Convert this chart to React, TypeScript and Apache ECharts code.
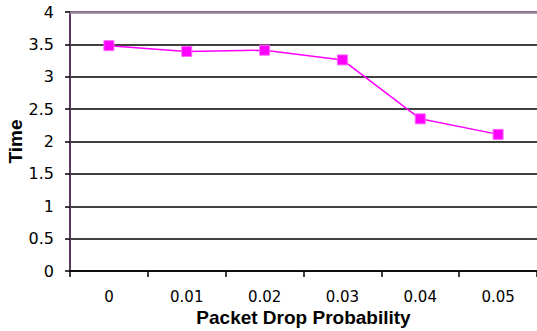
import React, { useEffect, useRef } from "react";
import * as echarts from "echarts";

const categories = ["0", "0.01", "0.02", "0.03", "0.04", "0.05"];
const timeValues = [3.48, 3.39, 3.41, 3.26, 2.35, 2.11];
const yTicks = [0, 0.5, 1, 1.5, 2, 2.5, 3, 3.5, 4];

export default function App() {
  const ref = useRef<HTMLDivElement>(null);
  useEffect(() => {
    document.body.style.margin = "0";
    const chart = echarts.init(ref.current!, null, { renderer: "svg" });
    const font = "'Liberation Sans', Arial, sans-serif";
    const tickFont = "'DejaVu Sans', sans-serif";
    chart.setOption({
      animation: false,
      backgroundColor: "#ffffff",
      grid: { left: 70, right: 0, top: 12, bottom: 60, containLabel: false, outerBoundsMode: "none" },
      xAxis: [
        {
          type: "category",
          data: categories,
          boundaryGap: true,
          name: "Packet Drop Probability",
          nameLocation: "middle",
          nameGap: 37,
          nameMoveOverlap: false,
          nameTextStyle: { fontFamily: font, fontSize: 19, fontWeight: "bold", color: "#000" },
          axisLine: { lineStyle: { color: "#000", width: 1.5 } },
          axisTick: { show: true, length: 6, lineStyle: { color: "#000", width: 1.5 } },
          axisLabel: { fontFamily: tickFont, fontSize: 15, color: "#000", margin: 18 },
          splitLine: { show: false },
        },
        {
          type: "category",
          position: "top",
          data: categories,
          axisLine: { lineStyle: { color: "#9a7f9c", width: 2.5 } },
          axisTick: { show: false },
          axisLabel: { show: false },
        },
      ],
      yAxis: {
        type: "value",
        min: 0,
        max: 4,
        interval: 0.5,
        name: "Time",
        nameLocation: "middle",
        nameGap: 45,
        nameMoveOverlap: false,
        nameTextStyle: { fontFamily: font, fontSize: 19, fontWeight: "bold", color: "#000" },
        axisLine: { show: true, lineStyle: { color: "#5a3a5e", width: 2 } },
        axisTick: { show: true, length: 5, lineStyle: { color: "#000", width: 1.5 } },
        axisLabel: {
          fontFamily: tickFont,
          fontSize: 16,
          color: "#000",
          margin: 16,
          formatter: (v: number) => (yTicks.includes(v) ? String(v) : ""),
        },
        splitLine: { show: true, lineStyle: { color: "#000", width: 1.5 } },
      },
      series: [
        {
          type: "line",
          data: timeValues,
          symbol: "rect",
          symbolSize: 10,
          itemStyle: { color: "#ff00ff", borderColor: "#ff66ff", borderWidth: 1 },
          lineStyle: { color: "#ff00ff", width: 1.5 },
        },
      ],
    });
    return () => chart.dispose();
  }, []);
  return <div ref={ref} style={{ width: 537, height: 331 }} />;
}
